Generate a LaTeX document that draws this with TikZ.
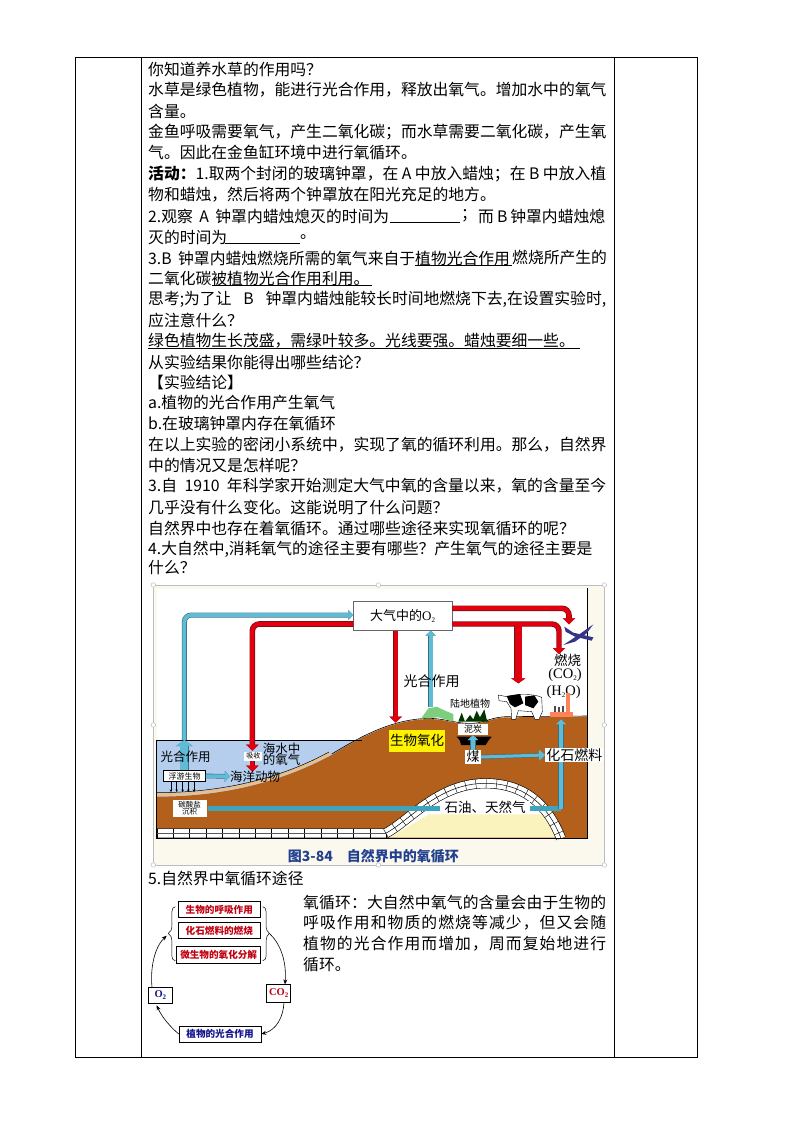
\documentclass[tikz,border=0pt]{standalone}
\usepackage{fontspec}
\usetikzlibrary{arrows.meta}
\setmainfont{Noto Sans CJK SC}
\newfontfamily\latinserif{Liberation Serif}
\XeTeXlinebreaklocale "zh"
\XeTeXlinebreakskip=0pt plus 3pt
\newcommand\fsz[1]{\fontsize{#1}{#1}\selectfont}
\ExplSyntaxOn
\NewDocumentCommand\spreadchars{m}{\tl_map_inline:nn{#1}{##1\hfil}\unskip}
\ExplSyntaxOff
\definecolor{redarrow}{HTML}{E0000F}
\definecolor{reddark}{HTML}{7A1010}
\definecolor{bluearrow}{HTML}{5FBBD6}
\definecolor{bluedark}{HTML}{3A6F80}
\definecolor{tealline}{HTML}{3FA3BC}
\definecolor{landbrown}{HTML}{B2601C}
\definecolor{seablue}{HTML}{B5CEEE}
\definecolor{sandy}{HTML}{EDBE84}
\definecolor{creamy}{HTML}{FBF9EE}
\definecolor{oilcream}{HTML}{FAF3BE}
\definecolor{capblue}{HTML}{23408F}
\definecolor{framegray}{HTML}{BDBDBD}
\definecolor{boxred}{HTML}{C00010}
\definecolor{boxblue}{HTML}{14148C}
\newcommand\sub[1]{{\fsz{7}\raisebox{-2pt}{#1}}}
\tikzset{
  txt/.style={anchor=west,inner sep=0pt,font=\fsz{15.8}},
  rule/.style={black,line width=.7pt},
  grid/.style={black,line width=1pt},
  pic/.style={inner sep=0pt,font=\fsz{12.5}},
  whitebox/.style={fill=white,inner sep=0pt,font=\fsz{12.5}},
  redpath/.style={draw=redarrow,line width=4.2pt,rounded corners=7pt,-{Triangle[length=6pt,width=12pt]},preaction={draw=reddark,line width=\pgflinewidth+.7pt}},
  bluepath/.style={draw=bluearrow,line width=3.8pt,rounded corners=7pt,-{Triangle[length=5pt,width=10pt]},preaction={draw=bluedark,line width=\pgflinewidth+.6pt}},
  fatblue/.style={draw=bluearrow,line width=8pt,-{Triangle[length=6pt,width=16pt]},preaction={draw=bluedark,line width=\pgflinewidth+.6pt}},
  smalldown/.style={black,line width=.5pt,-{Stealth[length=2.5pt,width=2.5pt]}},
  cyclearrow/.style={black,line width=.6pt,-{Stealth[length=5pt,width=4pt]}},
  bracepath/.style={black,line width=.5pt},
  cyclebox/.style={draw=black,line width=.5pt,fill=white,inner sep=0pt,font=\bfseries\fsz{9.6}},
  handle/.style={circle,draw=framegray,fill=white,line width=.5pt,minimum size=4.5pt,inner sep=0pt},
}
\newcommand\tl[4][]{\node[txt,#1] (#2) at (148,#3) {#4};}
\newcommand\jl[5][148]{\node[txt] (#2) at (#1,#3) {\makebox[#4pt][s]{#5}};}
\begin{document}
\begin{tikzpicture}[x=1pt,y=-1pt]
\useasboundingbox (0,0) rectangle (794,1123);
\fill[white] (0,0) rectangle (794,1123);
% table
\draw[grid] (75,58) rectangle (697,1057);
\draw[grid] (141,58) -- (141,1057);
\draw[grid] (614,58) -- (614,1057);
% text lines
\tl{l1}{69}{你知道养水草的作用吗？}
\jl{l2}{90}{458}{水草是绿色植物，能进行光合作用，释放出氧气。增加水中的氧气}
\tl{l3}{111}{含量。}
\jl{l4}{132}{458}{金鱼呼吸需要氧气，产生二氧化碳；而水草需要二氧化碳，产生氧}
\tl{l5}{152}{气。因此在金鱼缸环境中进行氧循环。}
\jl{l6}{174}{458}{{\bfseries 活动：}1.取两个封闭的玻璃钟罩，在 A 中放入蜡烛；在 B 中放入植}
\tl{l7}{195}{物和蜡烛，然后将两个钟罩放在阳光充足的地方。}
\jl{l8a}{216}{241}{2.观察 A 钟罩内蜡烛熄灭的时间为}
\node[txt] (l8b) at (461,216) {；};
\jl[478]{l8c}{216}{127}{而 B 钟罩内蜡烛熄}
\tl{l9a}{237}{灭的时间为}
\node[txt] (l9b) at (300,237) {。};
\jl{l10a}{258}{267}{3.B 钟罩内蜡烛燃烧所需的氧气来自于}
\jl[415]{l10b}{258}{97}{植物光合作用}
\jl[512]{l10c}{258}{94}{燃烧所产生的}
\tl{l11}{278}{二氧化碳被植物光合作用利用。}
\jl{l12}{299}{458}{思考;为了让 B 钟罩内蜡烛能较长时间地燃烧下去,在设置实验时,}
\tl{l13}{320}{应注意什么？}
\tl{l14}{341}{绿色植物生长茂盛，需绿叶较多。光线要强。蜡烛要细一些。}
\tl{l15}{362}{从实验结果你能得出哪些结论？}
\tl{l16}{382}{【实验结论】}
\tl{l17}{403}{a.植物的光合作用产生氧气}
\tl{l18}{424}{b.在玻璃钟罩内存在氧循环}
\jl{l19}{445}{458}{在以上实验的密闭小系统中，实现了氧的循环利用。那么，自然界}
\tl{l20}{465}{中的情况又是怎样呢？}
\jl{l21}{486}{458}{3.自 1910 年科学家开始测定大气中氧的含量以来，氧的含量至今}
\tl{l22}{507}{几乎没有什么变化。这能说明了什么问题？}
\tl{l23}{528}{自然界中也存在着氧循环。通过哪些途径来实现氧循环的呢？}
\jl{l24}{549}{458}{4.大自然中,消耗氧气的途径主要有哪些？产生氧气的途径主要是}
\tl{l25}{568}{什么？}
\tl{l26}{878}{5.自然界中氧循环途径}
\jl[303]{r1}{902}{303}{\spreadchars{氧循环：大自然中氧气的含量会由于生物的}}
\jl[303]{r2}{923}{303}{\spreadchars{呼吸作用和物质的燃烧等减少，但又会随}}
\jl[303]{r3}{944}{303}{\spreadchars{植物的光合作用而增加，周而复始地进行}}
\node[txt] (r4) at (303,965) {循环。};
% underlines
\draw[rule] (390,222) -- (460,222);
\draw[rule] (225,243) -- (300,243);
\draw[rule] (415,265) -- (512,265);
\draw[rule] (212,285) -- (372,285);
\draw[rule] (148,348) -- (580,348);

% ===== large figure (coordinates in 3x crop units)
\begin{scope}[shift={(145,580)},x=0.33333pt,y=-0.33333pt]
\fill[creamy] (25,15) rectangle (1378,855);
\draw[framegray,line width=.6pt] (25,15) rectangle (1378,855);
\foreach \hx/\hy [count=\hi] in {25/15,700/15,1378/15,25/435,1378/435,25/855,700/855,1378/855}
  \node[handle] (h\hi) at (\hx,\hy) {};
\fill[white] (35,28) rectangle (1328,775);
% sea
\fill[seablue] (35,480) rectangle (650,650);
% land
\fill[landbrown] (35,650) .. controls (250,650) and (420,600) .. (560,525)
  .. controls (650,470) and (740,420) .. (850,417)
  .. controls (900,417) and (940,435) .. (985,432)
  .. controls (1020,430) and (1040,412) .. (1090,412) -- (1328,410) -- (1328,775) -- (35,775) -- cycle;
\draw[sandy,line width=2.6pt] (35,644) .. controls (250,644) and (420,594) .. (555,520);
\draw[black,line width=.5pt] (35,638) .. controls (250,638) and (420,588) .. (552,516);
\draw[black,line width=.6pt] (560,522) .. controls (650,468) and (740,418) .. (850,415)
  .. controls (900,415) and (940,433) .. (985,430)
  .. controls (1020,428) and (1040,410) .. (1090,410) -- (1328,408);
\draw[black,line width=.8pt] (35,480) -- (650,480);
% arch and rock band
\fill[white] (725,772) .. controls (800,725) and (880,610) .. (1020,610)
  .. controls (1130,610) and (1200,670) .. (1245,772) -- cycle;
\fill[oilcream] (735,772) -- (852,703) -- (1200,703) -- (1240,772) -- cycle;
\draw[black,line width=10pt] (35,760) -- (722,760) .. controls (790,725) and (880,610) .. (1020,610) .. controls (1130,610) and (1205,665) .. (1248,775);
\draw[white,line width=8.8pt] (35,760) -- (722,760) .. controls (790,725) and (880,610) .. (1020,610) .. controls (1130,610) and (1205,665) .. (1248,775);
\draw[black,line width=.5pt] (35,760) -- (722,760) .. controls (790,725) and (880,610) .. (1020,610) .. controls (1130,610) and (1205,665) .. (1248,775);
\draw[black,line width=4pt,dash pattern=on .4pt off 16pt] (35,752) -- (715,752);
\draw[black,line width=4pt,dash pattern=on .4pt off 16pt] (35,768) -- (730,768);
\draw[black,line width=9pt,dash pattern=on .4pt off 10pt] (722,760) .. controls (790,725) and (880,610) .. (1020,610) .. controls (1130,610) and (1205,665) .. (1248,775);
% frame lines of the picture
\draw[black,line width=.8pt] (35,480) -- (35,775) -- (1328,775);
\draw[black,line width=.8pt] (1328,25) -- (1328,775);
% vegetation
\fill[green!45!gray!70!white] (828,416) -- (850,385) -- (875,380) -- (900,392) -- (925,402) -- (925,425) -- (880,412) -- cycle;
\fill[black!80!green] (940,425) -- (950,398) -- (960,425) -- (975,405) -- (985,418) -- (995,392) -- (1005,412) -- (1018,388) -- (1025,418) -- (1032,425) -- cycle;
% peat
\fill[black] (935,470) -- (1040,470) -- (1030,482) -- (1022,495) -- (948,495) -- (945,482) -- cycle;
% cow
\fill[white,draw=black,line width=.4pt] (1085,350) .. controls (1120,340) and (1170,342) .. (1190,352) -- (1192,395) -- (1182,418) -- (1170,418) -- (1160,395) -- (1120,392) -- (1112,418) -- (1100,418) -- (1098,385) -- (1085,365) -- (1062,362) -- (1060,345) -- cycle;
\fill[black] (1085,348) -- (1125,342) -- (1135,370) -- (1110,382) -- (1095,372) -- cycle;
\fill[black] (1140,350) -- (1168,346) -- (1180,365) -- (1165,385) -- (1140,375) -- cycle;
% plane
\fill[boxblue!70!gray] (1258,140) -- (1285,158) -- (1345,172) -- (1340,182) -- (1290,170) -- (1262,155) -- cycle;
\fill[boxblue!70!gray] (1345,133) -- (1300,165) -- (1255,195) -- (1290,185) -- (1325,160) -- cycle;
% blue arrows
\coordinate (leftriser) at (118,480);
\coordinate (plankup) at (118,572);
\coordinate (landleaf) at (857,382);
\coordinate (fosbase) at (190,686);
\coordinate (arcout) at (1155,686);
\coordinate (factorybase) at (1248,686);
\coordinate (factorytop) at (1248,418);
\coordinate (cowfood) at (1120,310);
\coordinate (planetip) at (1272,133);
\coordinate (burntip) at (1242,222);
\coordinate (redlandtip) at (752,428);
\coordinate (redsea) at (322,512);
\coordinate (redseatwo) at (322,575);
\coordinate (absorbtop) at (322,542);
\coordinate (airleftblue) at (625,105);
\coordinate (airleftred) at (625,132);
\coordinate (airrightone) at (922,85);
\coordinate (airrighttwo) at (922,132);
\coordinate (airbottomblue) at (857,152);
\coordinate (airbottomred) at (752,152);
% air box
\node[draw=black!60,fill=white,line width=.6pt,minimum width=99pt,minimum height=29pt,inner sep=0pt,font=\fsz{13}] (air) at (773,108) {大气中的{\latinserif O\sub{2}}};
\draw[bluepath] (leftriser) -- (118,105) -- (airleftblue);
\draw[fatblue] (plankup) -- (118,480);
\draw[bluepath] (landleaf) -- (airbottomblue);
\draw[redpath] (airleftred) -- (322,132) -- (redsea);
\draw[redpath,line width=4pt] (absorbtop) -- (redseatwo);
\draw[redpath] (airbottomred) -- (redlandtip);
\draw[redpath] (airrightone) -- (1272,85) -- (planetip);
\draw[redpath,line width=4pt] (airrighttwo) -- (1242,132) -- (burntip);
\draw[redpath,line width=6.5pt,-{Triangle[length=5pt,width=14pt]}] (1120,135) -- (cowfood);
\draw[tealline,line width=5pt] (fosbase) -- (arcout) -- (factorybase);
\draw[bluepath,line width=4.5pt,rounded corners=0pt] (factorybase) -- (factorytop);
% picture labels
\node[whitebox,minimum width=90pt,minimum height=12pt,font=\fsz{13.5}] (oil) at (1020,683) {石油、天然气};
\node[pic] (seagx) at (122,531) {光合作用};
\node[pic] (seawater) at (410,505) {海水中};
\node[pic] (seaoxy) at (410,540) {的氧气};
\node[pic] (seaanimal) at (330,589) {海洋动物};
\node[draw=black,fill=white,line width=.5pt,minimum width=42pt,minimum height=11pt,inner sep=0pt,font=\fsz{8}] (plankton) at (119,588) {浮游生物};
\foreach \ax in {78,95,113,130,147} \draw[smalldown] (\ax,605) -- (\ax,636);
\draw[fatblue,line width=3.5pt,-{Triangle[length=5pt,width=11pt]}] (plankton.east) -- (seaanimal.west);
\node[fill=white,inner sep=0pt,minimum width=18pt,minimum height=9pt,font=\fsz{7}] (absorb) at (325,528) {吸收};
\node[fill=white,inner sep=1pt,minimum width=34pt,minimum height=16pt,align=center,font=\fsz{7.5}] (carb) at (134,685) {碳酸盐\\沉积};
\node[fill=yellow,inner sep=0pt,minimum width=56pt,minimum height=22pt,font=\fsz{13.5}] (bio) at (816,482) {生物氧化};
\node[pic,font=\fsz{14}] (gxup) at (860,305) {光合作用};
\node[pic,font=\fsz{10}] (landplant) at (975,371) {陆地植物};
\node[fill=white,inner sep=0pt,minimum width=30pt,minimum height=11pt,font=\fsz{9}] (peat) at (984,448) {泥炭};
\node[fill=white,inner sep=0pt,minimum width=16pt,minimum height=14pt,font=\fsz{13}] (coal) at (984,531) {煤};
\node[fill=white,inner sep=0pt,minimum width=58pt,minimum height=14pt,font=\fsz{14}] (fossil) at (1288,525) {化石燃料};
\draw[bluepath,line width=4.5pt,rounded corners=0pt] (coal.north) -- (peat.south);
\draw[bluepath,line width=3pt,rounded corners=0pt,-{Triangle[length=6pt,width=11pt]}] (coal.east) -- (fossil.west);
\node[pic,font=\fsz{13.5}] (burn) at (1268,240) {燃烧};
\node[pic,font=\latinserif\fsz{14.5}] (co2) at (1260,285) {(CO\sub{2})};
\node[pic,font=\latinserif\fsz{14.5}] (h2o) at (1256,335) {(H\sub{2}O)};
% factory in front of the label
\fill[orange!50!red!65!white] (1215,396) rectangle (1285,410);
\fill[orange!50!red!65!white] (1264,340) rectangle (1276,396);
\fill[black!70] (1228,378) rectangle (1234,396);
\fill[black!70] (1240,380) rectangle (1246,396);
\fill[black!70] (1252,378) rectangle (1258,396);
\node[inner sep=0pt,text=capblue,font=\bfseries\fsz{14}] (caption) at (685,828) {图3-84\hspace{14pt}自然界中的氧循环};
\end{scope}

% ===== small cycle (coordinates in 3x crop units)
\begin{scope}[shift={(140,880)},x=0.33333pt,y=-0.33333pt]
\fill[black!45] (118,68) rectangle (364,115);
\fill[black!45] (118,130) rectangle (364,177);
\fill[black!45] (113,201) rectangle (364,252);
\fill[black!45] (28,325) rectangle (99,372);
\fill[black!45] (383,316) rectangle (453,369);
\fill[black!45] (120,441) rectangle (364,489);
\node[cyclebox,text=boxred,minimum width=82pt,minimum height=16pt] (resp) at (238,89) {生物的呼吸作用};
\node[cyclebox,text=boxred,minimum width=82pt,minimum height=16pt] (fuel) at (238,151) {化石燃料的燃烧};
\node[cyclebox,text=boxred,minimum width=84pt,minimum height=17pt] (micro) at (236,224) {微生物的氧化分解};
\node[cyclebox,text=boxblue,minimum width=24pt,minimum height=16pt,font=\latinserif\bfseries\fsz{10.5}] (oo) at (61,346) {O\sub{2}};
\node[cyclebox,text=boxred,minimum width=24pt,minimum height=18pt,font=\latinserif\bfseries\fsz{10.5}] (cc) at (416,340) {CO\sub{2}};
\node[cyclebox,text=boxblue,minimum width=82pt,minimum height=16pt] (photo) at (240,462) {植物的光合作用};
% braces
\coordinate (bl) at (85,160);
\coordinate (br) at (388,160);
\coordinate (ootop) at (36,322);
\coordinate (ootip) at (80,167);
\coordinate (cctop) at (435,313);
\coordinate (ccbot) at (432,367);
\coordinate (oobot) at (50,376);
\draw[bracepath] (106,80) .. controls (92,82) and (96,100) .. (96,130) .. controls (96,150) and (92,156) .. (bl) .. controls (92,164) and (96,170) .. (96,195) .. controls (96,225) and (92,240) .. (106,242);
\draw[bracepath] (368,80) .. controls (382,82) and (378,100) .. (378,130) .. controls (378,150) and (382,156) .. (br) .. controls (382,164) and (378,170) .. (378,195) .. controls (378,225) and (382,240) .. (368,242);
\draw[cyclearrow] (ootop) .. controls (30,260) and (45,200) .. (ootip);
\draw[cyclearrow] (br) .. controls (420,190) and (440,240) .. (cctop);
\draw[cyclearrow] (ccbot) .. controls (430,410) and (410,450) .. (photo.east);
\draw[cyclearrow] (photo.west) .. controls (90,440) and (65,410) .. (oobot);
\end{scope}
\end{tikzpicture}
\end{document}
